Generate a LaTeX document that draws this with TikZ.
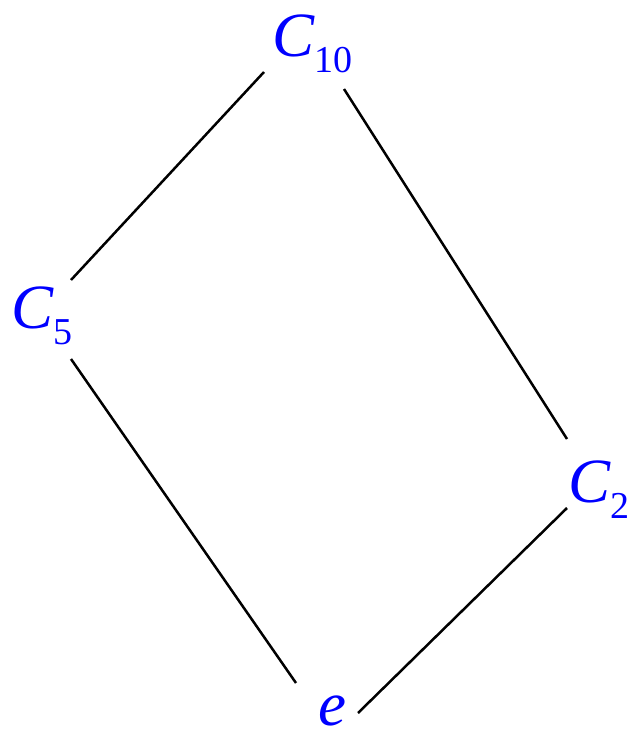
\documentclass[tikz,border=0pt]{standalone}
\usepackage{fontspec}
\setmainfont{Liberation Serif}
\newcommand{\grp}[2]{{\fontsize{63}{63}\selectfont\itshape #1}\ifx\relax#2\relax\else\raisebox{-16pt}{\fontsize{38}{38}\selectfont #2}\fi}
\begin{document}
\begin{tikzpicture}[x=1pt,y=-1pt,
  lbl/.style={text=blue,inner sep=0pt,anchor=base west},
  edge/.style={line width=2.5pt,black}]
\useasboundingbox (0,0) rectangle (628,730);
\node[lbl] (C10) at (272,57) {\grp{C}{10}};
\node[lbl] (C5) at (11,328) {\grp{C}{5}};
\node[lbl] (C2) at (568,502) {\grp{C}{2}};
\node[lbl] (e) at (318,725) {\grp{e}{}};
\draw[edge] ([shift={(-8,15)}]C10.base west) -- ([shift={(60,-48)}]C5.base west);
\draw[edge] ([shift={(72,32)}]C10.base west) -- ([shift={(-1,-63)}]C2.base west);
\draw[edge] ([shift={(60,31)}]C5.base west) -- ([shift={(-22,-42)}]e.base west);
\draw[edge] ([shift={(-1,6)}]C2.base west) -- ([shift={(40,-12)}]e.base west);
\end{tikzpicture}
\end{document}
